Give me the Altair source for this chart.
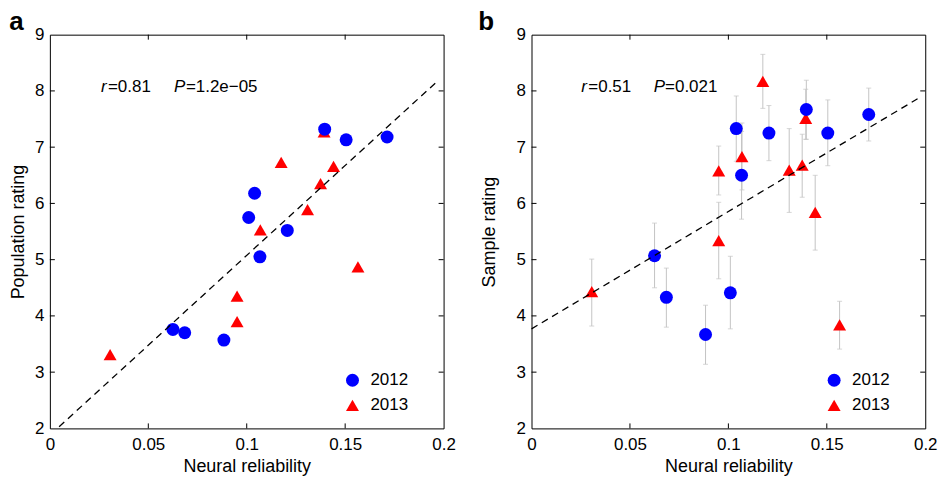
import altair as alt
import pandas as pd

# ---- data ----
years = ["2012", "2013"]

neural_2012 = [0.0625, 0.0685, 0.0884, 0.1010, 0.1040, 0.1067, 0.1206, 0.1396, 0.1505, 0.1713]
pop_2012 = [3.76, 3.70, 3.57, 5.75, 6.18, 5.05, 5.52, 7.32, 7.13, 7.18]
samp_2012 = [5.07, 4.33, 3.67, 4.41, 7.33, 6.50, 7.25, 7.67, 7.25, 7.58]
samp_lo_2012 = [4.50, 3.80, 3.14, 3.77, 6.75, 5.72, 6.76, 7.14, 6.67, 7.11]
samp_hi_2012 = [5.65, 4.85, 4.19, 5.06, 7.91, 7.28, 7.74, 8.19, 7.84, 8.05]

neural_2013 = [0.0306, 0.0951, 0.0951, 0.1069, 0.1175, 0.1309, 0.1375, 0.1393, 0.1441, 0.1565]
pop_2013 = [3.31, 4.35, 3.90, 5.53, 6.73, 5.89, 6.35, 7.27, 6.66, 4.87]
samp_2013 = [4.43, 6.58, 5.34, 6.83, 8.17, 6.59, 6.68, 7.51, 5.84, 3.84]
samp_lo_2013 = [3.82, 6.15, 4.66, 6.24, 7.69, 5.84, 6.11, 7.14, 5.17, 3.41]
samp_hi_2013 = [5.01, 7.02, 6.02, 7.43, 8.65, 7.33, 7.23, 8.03, 6.50, 4.26]

fit_a_x = [0.0047, 0.1968]
fit_a_y = [2.03, 8.17]
fit_b_x = [0.0, 0.1961]
fit_b_y = [3.77, 7.86]

stats_a = ["r", "=0.81", "P", "=1.2e\u221205"]
stats_b = ["r", "=0.51", "P", "=0.021"]

x_ticks = [0, 0.05, 0.1, 0.15, 0.2]
y_ticks = [2, 3, 4, 5, 6, 7, 8, 9]
x_inner = [0.05, 0.1, 0.15]
y_inner = [3, 4, 5, 6, 7, 8]

FONT = "Liberation Sans"
W = 395
H = 395

xscale = alt.Scale(domain=[0, 0.2], nice=False, zero=False)
yscale = alt.Scale(domain=[2, 9], nice=False, zero=False)


def xenc(field="x"):
    return alt.X(f"{field}:Q", scale=xscale, title="Neural reliability",
                 axis=alt.Axis(values=x_ticks, format="~g", ticks=False, domain=False,
                               grid=False, labelPadding=8, titlePadding=5,
                               labelFlush=False, labelOverlap=False))


def yenc(field, title, tpad):
    return alt.Y(f"{field}:Q", scale=yscale, title=title,
                 axis=alt.Axis(values=y_ticks, format="d", ticks=False, domain=False,
                               grid=False, labelPadding=6, titlePadding=tpad,
                               labelFlush=False, labelOverlap=False))


def panel(series, ytitle, stats, label, fit_x, fit_y, tpad, label_x, errs, r_pos, p_pos):
    y12, y13 = series
    df = pd.DataFrame({
        "x": neural_2013 + neural_2012,
        "y": y13 + y12,
        "year": [years[1]] * len(neural_2013) + [years[0]] * len(neural_2012),
    })
    leg = alt.Legend(orient="none", legendX=295.1, legendY=338.2, title=None,
                     labelFontSize=17, symbolSize=169, rowPadding=7.3, labelOffset=9.5,
                     padding=0, symbolStrokeWidth=0, symbolOpacity=1, labelFont=FONT)
    color = alt.Color("year:N", scale=alt.Scale(domain=years, range=["#0000ff", "#ff0000"]), legend=leg)
    shape = alt.Shape("year:N", scale=alt.Scale(domain=years, range=["circle", "triangle-up"]), legend=leg)

    layers = []
    if errs is not None:
        lo, hi = errs
        edf = df.copy()
        edf["lo"] = lo
        edf["hi"] = hi
        base_e = alt.Chart(edf)
        layers.append(base_e.mark_rule(color="#c4c4c4", strokeWidth=1).encode(
            x=xenc(), y=yenc("lo", ytitle, tpad), y2="hi:Q"))
        layers.append(base_e.mark_tick(color="#c4c4c4", orient="horizontal", size=5, thickness=1).encode(
            x=xenc(), y=yenc("lo", ytitle, tpad)))
        layers.append(base_e.mark_tick(color="#c4c4c4", orient="horizontal", size=5, thickness=1).encode(
            x=xenc(), y=yenc("hi", ytitle, tpad)))

    layers.append(alt.Chart(df).mark_point(filled=True, size=169, opacity=1, strokeWidth=0).encode(
        x=xenc(), y=yenc("y", ytitle, tpad), color=color, shape=shape))

    fdf = pd.DataFrame({"x": fit_x, "y": fit_y})
    layers.append(alt.Chart(fdf).mark_line(color="black", strokeWidth=1.3, strokeDash=[7, 5]).encode(
        x=xenc(), y=yenc("y", ytitle, tpad)))

    # inward ticks on all four sides
    xt = pd.DataFrame({"x": x_inner})
    yt = pd.DataFrame({"y": y_inner})
    layers.append(alt.Chart(xt).mark_rule(color="black", strokeWidth=1).encode(
        x=xenc(), y=alt.value(H), y2=alt.value(H - 5)))
    layers.append(alt.Chart(xt).mark_rule(color="black", strokeWidth=1).encode(
        x=xenc(), y=alt.value(0), y2=alt.value(5)))
    layers.append(alt.Chart(yt).mark_rule(color="black", strokeWidth=1).encode(
        y=yenc("y", ytitle, tpad), x=alt.value(0), x2=alt.value(5)))
    layers.append(alt.Chart(yt).mark_rule(color="black", strokeWidth=1).encode(
        y=yenc("y", ytitle, tpad), x=alt.value(W), x2=alt.value(W - 5)))

    # statistics annotation
    xs = [r_pos[0], r_pos[1], p_pos[0], p_pos[1]]
    styles = ["italic", "normal", "italic", "normal"]
    for s, px, st in zip(stats, xs, styles):
        layers.append(alt.Chart(pd.DataFrame({"t": [s]})).mark_text(
            align="left", baseline="alphabetic", fontSize=17, font=FONT, fontStyle=st, color="black"
        ).encode(text="t:N", x=alt.value(px), y=alt.value(57.4)))

    # panel letter
    layers.append(alt.Chart(pd.DataFrame({"t": [label]})).mark_text(
        align="left", baseline="top", fontSize=26, fontWeight="bold", font=FONT, color="black"
    ).encode(text="t:N", x=alt.value(label_x), y=alt.value(-25.3)))

    return alt.layer(*layers).properties(width=W, height=H)


left = panel((pop_2012, pop_2013), "Population rating", stats_a, "a", fit_a_x, fit_a_y, 7, -40.7,
             None, (51.3, 58.3), (124.6, 136.5))
right = panel((samp_2012, samp_2013), "Sample rating", stats_b, "b", fit_b_x, fit_b_y, 18, -53.5,
              (samp_lo_2013 + samp_lo_2012, samp_hi_2013 + samp_hi_2012),
              (50.0, 57.0), (122.7, 134.0))

chart = alt.hconcat(left, right, spacing=21.2).resolve_scale(
    color="independent", shape="independent"
).properties(padding=0).configure(
    font=FONT
).configure_view(
    stroke="black", strokeWidth=1
).configure_axis(
    labelFont=FONT, titleFont=FONT, labelFontSize=17, titleFontSize=18,
    labelColor="black", titleColor="black", titleFontWeight="normal"
)

chart.save("out.html", embed_options={"renderer": "svg", "actions": False})
